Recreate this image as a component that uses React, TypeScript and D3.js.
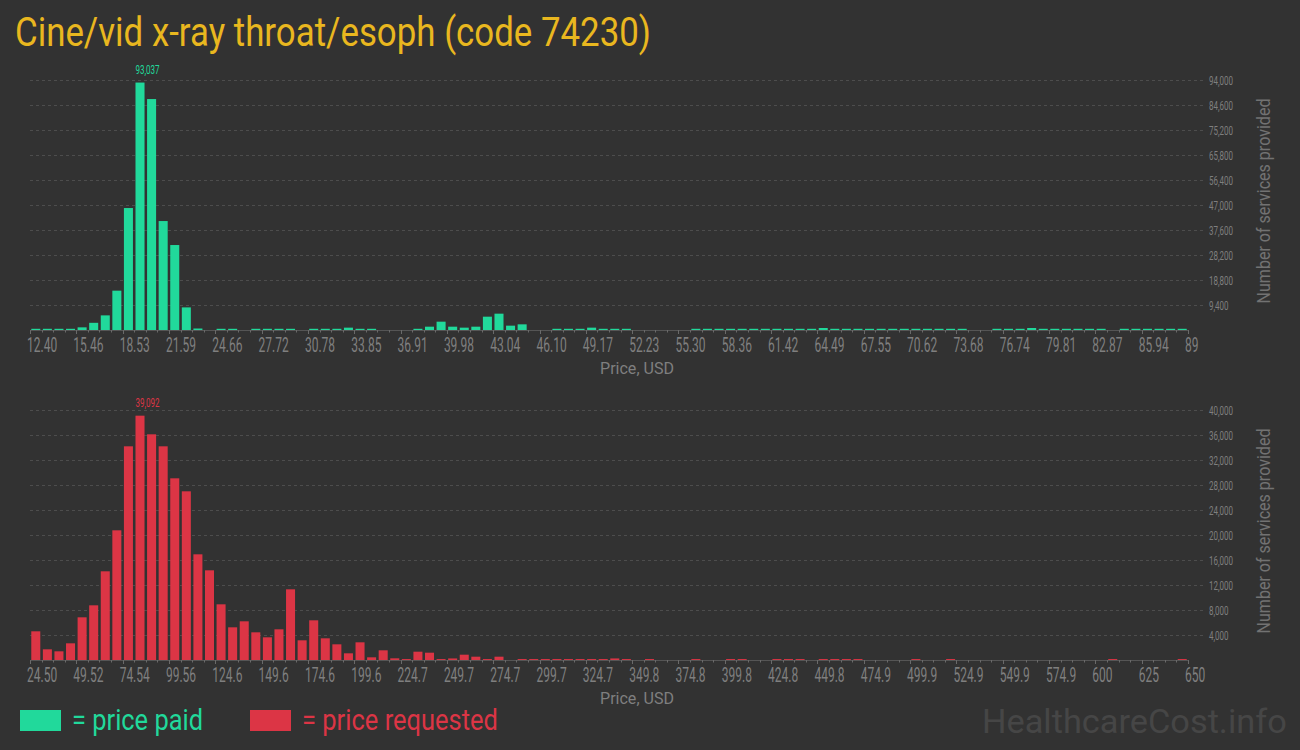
import React from "react";
import * as d3 from "d3";

const W = 1300;
const H = 750;

const paidTickLabels = ["12.40","15.46","18.53","21.59","24.66","27.72","30.78","33.85","36.91","39.98","43.04","46.10","49.17","52.23","55.30","58.36","61.42","64.49","67.55","70.62","73.68","76.74","79.81","82.87","85.94","89"];
const requestedTickLabels = ["24.50","49.52","74.54","99.56","124.6","149.6","174.6","199.6","224.7","249.7","274.7","299.7","324.7","349.8","374.8","399.8","424.8","449.8","474.9","499.9","524.9","549.9","574.9","600","625","650"];

// number of services per price bin (100 bins each)
const paidCounts = [
  450, 450, 450, 450, 1000, 2700, 5500, 14790, 45860, 93037,
  86840, 40970, 31950, 8500, 560, 0, 450, 450, 0, 450,
  450, 450, 450, 0, 450, 450, 450, 880, 450, 450,
  0, 0, 0, 450, 1250, 3130, 1250, 880, 1250, 5010,
  6140, 1630, 2130, 0, 0, 450, 450, 450, 880, 450,
  450, 450, 0, 0, 0, 0, 0, 450, 450, 450,
  450, 450, 450, 450, 450, 450, 450, 450, 750, 450,
  450, 450, 450, 450, 450, 450, 450, 450, 450, 450,
  450, 0, 0, 450, 450, 450, 750, 450, 450, 450,
  450, 450, 450, 0, 450, 450, 450, 450, 450, 450,
];
const requestedCounts = [
  4590, 1710, 1390, 2670, 6830, 8750, 14190, 20750, 34190, 39092,
  36110, 34190, 29070, 26990, 16910, 14350, 8910, 5230, 6190, 4430,
  3630, 4910, 11310, 3150, 6350, 3470, 2510, 1070, 2830, 430,
  1550, 270, 150, 1330, 1170, 150, 250, 850, 530, 150,
  530, 0, 150, 150, 150, 150, 150, 150, 150, 150,
  250, 150, 0, 150, 0, 0, 0, 150, 0, 0,
  150, 150, 0, 0, 150, 150, 150, 0, 150, 150,
  150, 150, 0, 0, 0, 0, 150, 0, 0, 150,
  0, 0, 0, 0, 0, 0, 0, 0, 0, 0,
  0, 0, 0, 150, 0, 0, 0, 0, 0, 150,
];
const paidYTicks = [9400, 18800, 28200, 37600, 47000, 56400, 65800, 75200, 84600, 94000];
const requestedYTicks = [4000, 8000, 12000, 16000, 20000, 24000, 28000, 32000, 36000, 40000];

const BG = "#323232";
const GREEN = "#21d99b";
const RED = "#dc3545";
const GOLD = "#e9b71f";
const GRAY = "#7f7f7f";
const FONT = "Roboto, 'Noto Sans', sans-serif";

const fmt = d3.format(",");

type HistProps = {
  counts: number[];
  tickLabels: string[];
  yTicks: number[];
  top: number;
  bottom: number;
  color: string;
};

function Histogram({ counts, tickLabels, yTicks, top, bottom, color }: HistProps) {
  const x0 = 30;
  const x1 = 1188;
  const n = counts.length;
  const band = d3
    .scaleBand<number>()
    .domain(d3.range(n))
    .range([x0, x1])
    .paddingInner(0.22)
    .paddingOuter(0.11);
  const xb = d3.scaleLinear().domain([0, n]).range([x0, x1]);
  const yMax = yTicks[yTicks.length - 1];
  const y = d3.scaleLinear().domain([0, yMax]).range([bottom, top]);
  const peak = d3.maxIndex(counts);
  const binsPerLabel = n / (tickLabels.length - 1);

  return (
    <g>
      {yTicks.map((v) => (
        <g key={v}>
          <line x1={x0} x2={1205} y1={Math.round(y(v)) + 0.5} y2={Math.round(y(v)) + 0.5} stroke="#4d4d4d" strokeDasharray="3,3" />
          <text transform={`translate(1209,${y(v) + 4.5}) scale(0.64,1)`} fontSize={12.5} fill={GRAY} fontFamily={FONT}>
            {fmt(v)}
          </text>
        </g>
      ))}
      {counts.map((c, i) =>
        c > 0 ? (
          <rect key={i} x={band(i)} width={band.bandwidth()} y={y(c)} height={bottom - y(c)} fill={color} />
        ) : null
      )}
      <line x1={x0} x2={x1} y1={bottom + 0.5} y2={bottom + 0.5} stroke="#555" />
      {d3.range(n + 1).map((i) => {
        const major = i % binsPerLabel === 0;
        return (
          <line key={i} x1={Math.round(xb(i)) + 0.5} x2={Math.round(xb(i)) + 0.5} y1={bottom} y2={bottom + (major ? 4 : 2.5)} stroke="#6a6a6a" />
        );
      })}
      {tickLabels.map((t, k) => (
        <text key={t} transform={`translate(${xb(k * binsPerLabel) - 3},${bottom + 22}) scale(0.6,1)`} fontSize={20} fill={GRAY} fontFamily={FONT}>
          {t}
        </text>
      ))}
      <text transform={`translate(${band(peak)},${y(counts[peak]) - 9}) scale(0.64,1)`} fontSize={12.5} fill={color} fontFamily={FONT}>
        {fmt(counts[peak])}
      </text>
      <text x={637} y={bottom + 44} textAnchor="middle" fontSize={16} fill={GRAY} fontFamily={FONT} textLength={74} lengthAdjust="spacingAndGlyphs">
        Price, USD
      </text>
      <text
        transform={`translate(1270,${top + 121}) rotate(-90)`}
        textAnchor="middle"
        fontSize={18}
        fill="#727272"
        fontFamily={FONT}
        textLength={205}
        lengthAdjust="spacingAndGlyphs"
      >
        Number of services provided
      </text>
    </g>
  );
}

export default function App() {
  return (
    <svg width={W} height={H} style={{ display: "block", position: "absolute", left: 0, top: 0, background: BG }}>
      <rect width={W} height={H} fill={BG} />
      <text x={15} y={46} fontSize={40} fill={GOLD} fontFamily={FONT} textLength={636} lengthAdjust="spacingAndGlyphs">
        Cine/vid x-ray throat/esoph (code 74230)
      </text>
      <Histogram counts={paidCounts} tickLabels={paidTickLabels} yTicks={paidYTicks} top={80} bottom={330} color={GREEN} />
      <Histogram counts={requestedCounts} tickLabels={requestedTickLabels} yTicks={requestedYTicks} top={410} bottom={660} color={RED} />
      <rect x={20} y={710} width={41} height={21} fill={GREEN} />
      <text x={72} y={730} fontSize={30} fill={GREEN} fontFamily={FONT} textLength={131} lengthAdjust="spacingAndGlyphs">
        = price paid
      </text>
      <rect x={250} y={710} width={41} height={21} fill={RED} />
      <text x={302} y={730} fontSize={30} fill={RED} fontFamily={FONT} textLength={196} lengthAdjust="spacingAndGlyphs">
        = price requested
      </text>
      <text transform="translate(982,733) scale(1.01,1)" fontSize={34} fill="#464646" fontFamily={FONT}>
        HealthcareCost.info
      </text>
    </svg>
  );
}
